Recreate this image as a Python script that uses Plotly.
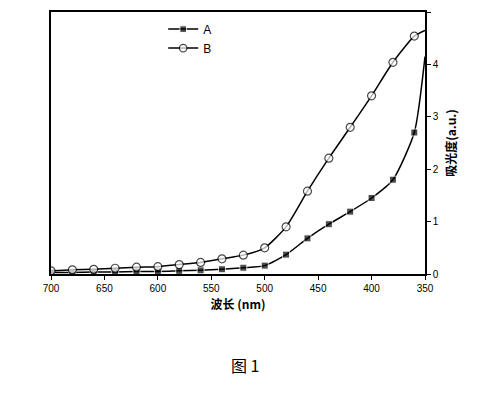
import plotly.graph_objects as go

wavelength = [700, 680, 660, 640, 620, 600, 580, 560, 540, 520, 500, 480, 460, 440, 420, 400, 380, 360, 350]
series_a = [0.03, 0.03, 0.04, 0.04, 0.05, 0.05, 0.06, 0.07, 0.09, 0.12, 0.16, 0.37, 0.68, 0.95, 1.19, 1.45, 1.80, 2.70, 4.15]
series_b = [0.06, 0.08, 0.09, 0.11, 0.13, 0.14, 0.18, 0.22, 0.29, 0.36, 0.50, 0.90, 1.58, 2.21, 2.80, 3.40, 4.04, 4.54, 4.65]

fig = go.Figure()
fig.add_trace(go.Scatter(x=wavelength, y=series_a, name="A", mode="lines+markers",
                         line=dict(color="black", width=1.5, shape="spline", smoothing=0.6),
                         marker=dict(symbol="square", size=[7]*18+[0], color="black")))
fig.add_trace(go.Scatter(x=wavelength, y=series_b, name="B", mode="lines+markers",
                         line=dict(color="black", width=1.5, shape="spline", smoothing=0.6),
                         marker=dict(symbol="circle", size=[8]*18+[0], color="white", line=dict(width=1.2, color="black"))))

ax = dict(showline=True, linecolor="black", linewidth=1.5, mirror=True, ticks="outside",
          tickcolor="black", showgrid=False, zeroline=False,
          tickfont=dict(family="Liberation Sans", size=10, color="black"))
fig.update_layout(
    width=501, height=403, plot_bgcolor="white", paper_bgcolor="white",
    margin=dict(l=43, r=84, t=2, b=137),
    xaxis=dict(range=[700, 350], tickvals=[700, 650, 600, 550, 500, 450, 400, 350], ticklen=4,
               title=dict(text="<b>波长 (nm)</b>", font=dict(family="Noto Sans CJK SC", size=12, color="black"), standoff=8), **ax),
    yaxis=dict(range=[0, 5], side="right", dtick=1, ticklen=4,
               title=dict(text="<b>吸光度(a.u.)</b>", font=dict(family="Noto Sans CJK SC", size=12, color="black"), standoff=10), **ax),
    legend=dict(x=0.3, y=0.99, xanchor="left", yanchor="top", bgcolor="rgba(0,0,0,0)",
                tracegroupgap=0, font=dict(family="Liberation Sans", size=12, color="black")),
    annotations=[dict(text="图 1", x=0.52, y=-0.4, xref="paper", yref="paper", showarrow=False,
                      font=dict(family="Noto Sans CJK SC", size=16, color="black"))],
)
fig.write_html("out.html")
